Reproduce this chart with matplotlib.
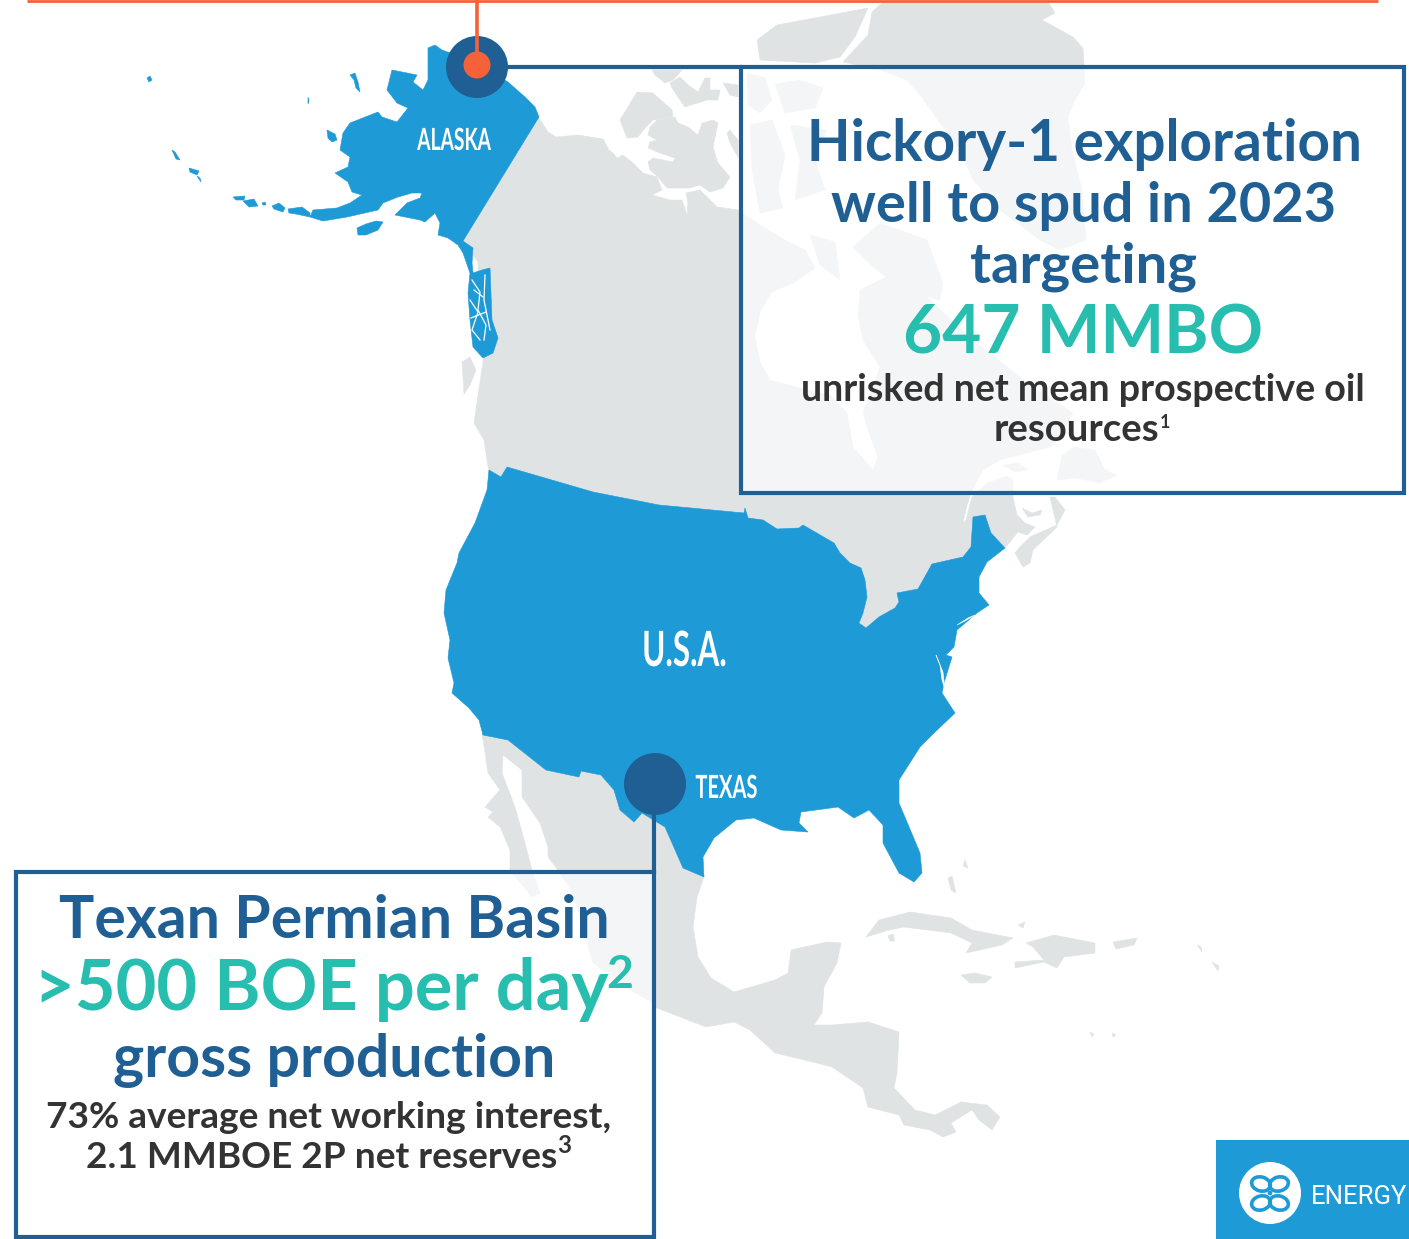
import matplotlib
matplotlib.use("Agg")
import matplotlib.pyplot as plt
import matplotlib.patheffects as pe
from matplotlib.patches import Polygon, Circle, Ellipse, Rectangle
from matplotlib.textpath import TextPath
from matplotlib.transforms import Affine2D
from matplotlib.font_manager import FontProperties

GREY = "#e0e3e4"; BLUE = "#1e9ad6"; NAVY = "#1f5f94"; TEAL = "#27bdaf"; DARK = "#333333"; ORANGE = "#f5623a"

# ---- map outlines ----
alaska = [(428,48),(435,45),(442,50),(470,60),(508,82),(517,90),(525,97),(535,107),(539,117),(463,241),(473,248),(472,263),(473,273),(482,270),(490,268),(492,320),(498,338),(493,353),(483,358),(473,347),(470,320),(468,293),(470,273),(463,253),(458,245),(448,238),(438,235),(440,223),(435,213),(425,222),(420,220),(395,215),(407,203),(420,198),(422,193),(412,193),(398,197),(383,203),(378,210),(347,217),(323,221),(310,217),(313,210),(337,208),(350,203),(362,195),(352,192),(348,182),(335,173),(348,167),(350,157),(340,150),(343,133),(350,123),(378,112),(382,117),(397,122),(408,108),(397,103),(387,90),(392,70),(417,75),(413,82),(423,90),(428,80)]
alaska_isles = [
 [(327,130),(335,134),(337,140),(332,142),(328,138)],
 [(350,75),(355,73),(358,82),(360,92),(356,88),(354,80)],
 [(357,228),(366,224),(376,221),(383,222),(378,230),(366,235),(358,235)],
 [(233,197),(245,196),(244,200),(236,200)],
 [(243,201),(254,199),(258,206),(249,207)],
 [(262,203),(265,202),(266,205),(263,205)],
 [(272,206),(279,203),(285,208),(283,212),(274,209)],
 [(288,209),(302,207),(310,213),(310,217),(296,214),(289,213)],
 [(147,78),(150,76),(152,80),(149,82)],
 [(172,150),(175,152),(180,160),(176,159)],
 [(189,168),(199,171),(197,175),(190,172)],
 [(197,176),(200,178),(201,182)],
 [(308,97),(309,101),(308,104),(308,100)],
]
panhandle_cuts = [
 [(472,280),(480,292),(478,310),(486,325),(484,340)],
 [(470,300),(478,312),(472,330),(480,340)],
 [(485,275),(484,300),(490,330)],
 [(474,290),(483,297)],
 [(471,318),(486,312)],
]
usa = [(489,470),(501,477),(507,467),(593,492),(659,505),(744,513),(745,508),(748,518),(763,520),(777,529),(799,528),(803,525),(834,543),(840,553),(850,563),(861,568),(865,580),(867,597),(863,613),(859,623),(866,628),(879,617),(895,608),(899,602),(897,593),(918,589),(932,564),(963,557),(971,547),(973,517),(985,515),(991,533),(1005,548),(987,562),(979,577),(979,593),(989,605),(977,613),(957,630),(954,647),(946,655),(952,657),(944,683),(942,693),(955,713),(934,733),(920,747),(899,780),(899,803),(920,853),(922,873),(914,882),(899,873),(883,843),(883,825),(869,810),(854,818),(838,807),(801,812),(799,823),(808,832),(781,830),(754,818),(736,820),(714,838),(703,857),(704,877),(683,868),(665,827),(642,813),(634,822),(620,810),(614,790),(601,775),(581,771),(579,777),(546,770),(508,740),(483,735),(479,720),(469,708),(452,693),(454,683),(448,658),(450,640),(444,613),(446,590),(457,563),(459,553),(475,523),(487,490)]
chesapeake = [(936,655),(940,665),(942,680),(945,690),(943,672),(938,660)]
long_island = [(957,625),(968,618),(975,615),(965,621)]
canada = [(539,118),(548,132),(556,137),(578,135),(603,139),(609,150),(613,153),(617,158),(623,155),(633,163),(643,173),(657,177),(662,190),(652,195),(670,200),(682,200),(687,215),(688,203),(686,193),(700,190),(707,197),(717,207),(738,210),(760,225),(785,240),(805,250),(815,268),(795,282),(772,292),(760,312),(755,337),(760,362),(770,380),(800,388),(830,395),(847,413),(850,430),(853,447),(873,470),(878,457),(868,430),(863,413),(880,367),(863,340),(858,315),(860,290),(890,275),(905,285),(930,300),(973,340),(1030,385),(1073,413),(1058,440),(1050,447),(1000,460),(983,470),(972,490),(967,505),(963,523),(966,520),(972,497),(987,483),(1007,476),(1013,480),(1013,497),(1017,515),(1025,523),(1035,527),(1027,535),(1018,532),(1005,548),(960,560),(900,610),(865,632),(850,600),(500,500),(489,473),(484,440),(474,423),(480,382),(484,355),(478,340),(478,262),(463,241)]
nova_scotia = [(1050,497),(1055,497),(1065,510),(1057,525),(1030,537),(1020,547),(1015,553),(1023,567),(1030,563),(1033,550),(1057,527)]
pei = [(1022,508),(1032,513),(1042,510),(1040,515),(1028,517)]
newfoundland = [(1057,480),(1062,455),(1075,447),(1095,450),(1105,470),(1117,475),(1100,483),(1075,478)]
anticosti = [(1003,465),(1018,463),(1028,470),(1015,472)]
vancouver_isl = [(462,362),(470,357),(476,370),(470,385),(464,394)]
greenland = [(883,2),(1048,2),(1055,13),(1042,20),(1073,37),(1083,48),(1085,83),(1075,100),(1068,117),(1072,150),(1082,190),(1086,240),(1060,250),(1040,240),(1000,210),(973,180),(960,150),(940,123),(920,95),(907,80),(880,70),(843,62),(868,35),(872,12)]
arctic_isles = [
 [(757,40),(777,25),(868,8),(855,37),(840,57),(815,63),(760,60)],
 [(620,120),(637,92),(653,93),(672,110),(673,117),(653,120),(645,128),(638,137),(627,138)],
 [(650,127),(657,120),(675,117),(678,123),(688,127),(698,135),(702,123),(713,120),(718,123),(713,147),(718,163),(730,177),(723,188),(710,192),(700,185),(690,188),(667,188),(658,177),(650,170),(648,162),(653,158),(673,162),(675,158),(660,153),(648,148),(650,142),(657,140),(648,135)],
 [(670,83),(680,77),(688,85),(698,92),(705,78),(710,78),(710,90),(720,90),(718,100),(707,100),(685,107),(680,100),(672,88)],
 [(652,70),(682,70),(673,80),(665,83),(655,75)],
 [(727,133),(730,130),(738,140),(738,157),(730,143)],
 [(723,83),(738,85),(738,97),(730,95)],
 [(747,73),(765,78),(772,100),(760,113),(748,105)],
 [(775,84),(800,80),(823,88),(815,108),(785,113)],
 [(750,125),(772,120),(785,155),(778,190),(783,208),(760,213),(752,170)],
 [(790,125),(827,130),(815,160),(825,190),(795,200),(800,160)],
 [(853,247),(880,223),(927,240),(943,283),(940,300),(907,293),(873,267)],
 [(810,235),(835,242),(840,280),(820,265)],
]
mexico_central = [(482,733),(600,700),(704,877),(697,897),(693,927),(698,957),(711,978),(734,992),(775,980),(788,973),(791,950),(827,942),(841,943),(837,963),(824,987),(822,1013),(814,1025),(832,1025),(868,1022),(899,1032),(897,1073),(894,1088),(915,1110),(935,1115),(961,1102),(987,1105),(1000,1117),(992,1130),(979,1120),(972,1110),(951,1123),(956,1132),(943,1137),(930,1130),(904,1125),(899,1115),(868,1107),(863,1088),(832,1067),(817,1063),(775,1053),(750,1030),(734,1022),(706,1027),(657,1008),(652,1002),(630,990),(593,963),(573,893),(558,870),(548,857),(548,847),(540,823),(522,797),(522,770),(503,755),(502,773),(515,807),(525,843),(532,870),(540,893),(532,897),(510,870),(510,850),(500,827),(488,817),(493,812),(485,807),(500,790),(488,773)]
cuba = [(866,937),(879,920),(910,912),(951,918),(972,930),(1013,938),(1002,945),(966,953),(972,943),(951,933),(904,927),(889,930)]
jamaica = [(961,975),(975,973),(992,977),(985,983),(970,983)]
hispaniola = [(1026,943),(1054,935),(1095,943),(1095,953),(1064,957),(1057,968),(1044,962),(1015,968),(1015,962),(1044,960),(1033,947)]
puerto_rico = [(1113,942),(1137,938),(1134,945),(1116,949)]
small_isles = [
 [(948,878),(952,876),(956,893),(951,890)],
 [(888,936),(893,934),(895,941),(890,941)],
 [(1018,925),(1025,922),(1023,928)],
 [(965,860),(968,868),(963,866)],
 [(1212,962),(1219,966),(1218,971)],
 [(1197,945),(1201,947),(1202,952)],
 [(1090,1032),(1094,1034),(1092,1037)],
 [(1112,1033),(1116,1035),(1113,1037)],
]

# ---- labels ----
box_one_lines = ["Hickory-1 exploration", "well to spud in 2023", "targeting"]
box_one_big = "647 MMBO"
box_one_small = ["unrisked net mean prospective oil", "resources"]
box_two_head = "Texan Permian Basin"
box_two_big = ">500 BOE per day"
box_two_sub = "gross production"
box_two_small = ["73% average net working interest,", "2.1 MMBOE 2P net reserves"]

plt.rcParams['font.family'] = ['Lato', 'DejaVu Sans']
fig = plt.figure(figsize=(14.09, 12.39), dpi=100)
ax = fig.add_axes([0, 0, 1, 1])
ax.set_xlim(0, 1409); ax.set_ylim(1239, 0); ax.axis('off')

def poly(pts, color, z):
    ax.add_patch(Polygon(pts, closed=True, fc=color, ec=color, lw=0.4, zorder=z))

for p in [canada, nova_scotia, pei, newfoundland, anticosti, vancouver_isl, greenland, mexico_central, cuba, jamaica, hispaniola, puerto_rico] + arctic_isles + small_isles:
    poly(p, GREY, 1)

poly(usa, BLUE, 2); poly(alaska, BLUE, 2)
for p in alaska_isles:
    poly(p, BLUE, 2)
for c in panhandle_cuts:
    ax.plot(*zip(*c), color='white', lw=0.9, zorder=2.5)
poly(chesapeake, 'white', 2.5); poly(long_island, 'white', 2.5)

# panels
ax.add_patch(Rectangle((741, 67), 663, 426, fc=(1, 1, 1, 0.67), ec=NAVY, lw=3, zorder=3))
ax.add_patch(Rectangle((16, 872), 638, 365, fc=(1, 1, 1, 0.67), ec=NAVY, lw=3, zorder=3))

# leader lines and markers
ax.plot([27, 1378], [1, 1], color=ORANGE, lw=2, zorder=4, solid_capstyle='butt')
ax.plot([508, 741], [67, 67], color=NAVY, lw=3, zorder=4)
ax.plot([654, 654], [810, 872], color=NAVY, lw=3, zorder=4)
ax.add_patch(Circle((477, 67), 31, fc=NAVY, ec='none', zorder=5))
ax.plot([477, 477], [0, 60], color=ORANGE, lw=2.6, zorder=6)
ax.add_patch(Circle((477, 65), 13.5, fc=ORANGE, ec='none', zorder=6))
ax.add_patch(Circle((655, 784), 31, fc=NAVY, ec='none', zorder=5))

# logo
ax.add_patch(Rectangle((1216, 1140), 193, 99, fc=BLUE, ec='none', zorder=3))
ax.add_patch(Circle((1270, 1193), 31, fc='white', ec='none', zorder=4))
for cx, cy, a in [(1261, 1184, 15), (1279, 1184, -15), (1261, 1203, -15), (1279, 1203, 15)]:
    ax.add_patch(Ellipse((cx, cy), 19, 14, angle=a, fc='none', ec=BLUE, lw=2.6, zorder=5))
ax.add_patch(Circle((1270, 1193), 2.4, fc=BLUE, ec='none', zorder=5))

def fit(s, x0, x1, base, color, family='Lato', weight='bold', z=7):
    fp = FontProperties(family=family, weight=weight)
    w = TextPath((0, 0), s, size=100, prop=fp).get_extents().width
    size = (x1 - x0) * 72 / w
    ax.text((x0 + x1) / 2, base, s, ha='center', va='baseline', color=color,
            fontsize=size, family=family, weight=weight, zorder=z)

class Squeeze(pe.AbstractPathEffect):
    """Draw a text's glyphs narrower about a vertical axis (condensed display face)."""
    def __init__(self, cx_display, sx):
        super().__init__()
        self.cx, self.sx = cx_display, sx
    def draw_path(self, renderer, gc, tpath, affine, rgbFace=None):
        t = affine + Affine2D().translate(-self.cx, 0).scale(self.sx, 1).translate(self.cx, 0)
        renderer.draw_path(gc, tpath, t, rgbFace)

def condensed(s, x0, x1, base, cap_px, color='white'):
    fp = FontProperties(family='Lato', weight='bold')
    size = cap_px  # Lato caps are 0.72 em, so the pt size equals the cap height in px at 100 dpi
    w = TextPath((0, 0), s, size=100, prop=fp).get_extents().width
    natural = w * size / 72
    cx = (x0 + x1) / 2
    cx_disp = ax.transData.transform((cx, base))[0]
    ax.text(cx, base, s, ha='center', va='baseline', color=color, fontsize=size,
            family='Lato', weight='bold', zorder=7,
            path_effects=[Squeeze(cx_disp, (x1 - x0) / natural)])

fit(box_one_lines[0], 810, 1358, 161, NAVY)
fit(box_one_lines[1], 832, 1335, 222, NAVY)
fit(box_one_lines[2], 971, 1196, 282, NAVY)
fit(box_one_big, 906, 1261, 353, TEAL)
fit(box_one_small[0], 803, 1363, 401, DARK)
fit(box_one_small[1], 995, 1157, 441, DARK)
fit("1", 1161, 1169, 428, DARK)
fit(box_two_head, 61, 607, 938, NAVY)
fit(box_two_big, 38, 605, 1010, TEAL)
fit("2", 608, 631, 988, TEAL)
fit(box_two_sub, 116, 553, 1077, NAVY)
fit(box_two_small[0], 47, 610, 1128, DARK)
fit(box_two_small[1], 87, 556, 1168, DARK)
fit("3", 558, 570, 1153, DARK)

condensed("ALASKA", 417, 491, 150, 22)
condensed("U.S.A.", 644, 725, 666, 35)
condensed("TEXAS", 696, 757, 798, 23)
fit("ENERGY", 1312, 1406, 1204, 'white', family='Roboto', weight='normal')

fig.savefig("out.png", dpi=100)
